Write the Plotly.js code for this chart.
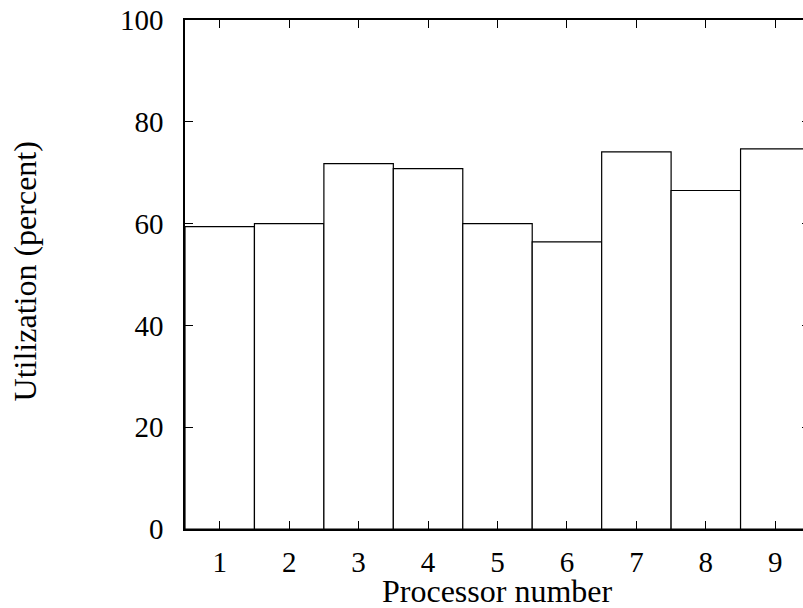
<!DOCTYPE html>
<html>
<head>
<meta charset="utf-8">
<script src="https://cdn.plot.ly/plotly-3.0.1.min.js"></script>
<style>
  html, body { margin: 0; padding: 0; overflow: hidden; background: #fff; }
  #chart { width: 830px; height: 608px; }
</style>
</head>
<body>
<div id="chart"></div>
<script>
// Per-processor utilization
const processors = [1, 2, 3, 4, 5, 6, 7, 8, 9];
const utilization = [59.4, 60.0, 71.8, 70.8, 60.0, 56.4, 74.1, 66.5, 74.7];
const yTicks = [0, 20, 40, 60, 80, 100];
const xTitle = 'Processor number';
const yTitle = 'Utilization (percent)';

const serif = 'Liberation Serif, Times New Roman, serif';

const trace = {
  type: 'bar',
  x: processors,
  y: utilization,
  width: 1,
  marker: { color: '#ffffff', line: { color: '#000000', width: 1.2 } },
  hoverinfo: 'x+y'
};

const layout = {
  width: 830,
  height: 608,
  margin: { l: 185, r: 20, t: 20, b: 79 },
  paper_bgcolor: '#ffffff',
  plot_bgcolor: '#ffffff',
  showlegend: false,
  font: { family: serif, size: 29, color: '#000000' },
  bargap: 0,
  xaxis: {
    range: [0.5, 9.5],
    tickmode: 'array',
    tickvals: processors,
    ticktext: processors.map(String),
    ticks: 'inside',
    ticklen: 8,
    tickwidth: 1,
    tickcolor: '#000',
    mirror: 'ticks',
    showline: true,
    linecolor: '#000',
    linewidth: 1.8,
    showgrid: false,
    zeroline: false,
    ticklabelstandoff: 6
  },
  yaxis: {
    range: [0, 100],
    tickmode: 'array',
    tickvals: yTicks,
    ticktext: yTicks.map(String),
    ticks: 'inside',
    ticklen: 8,
    tickwidth: 1,
    tickcolor: '#000',
    mirror: 'ticks',
    showline: true,
    linecolor: '#000',
    linewidth: 1.8,
    showgrid: false,
    zeroline: false,
    ticklabelstandoff: 14
  },
  // axis titles placed as paper annotations for exact positioning
  annotations: [
    {
      text: xTitle, xref: 'paper', yref: 'paper',
      x: 0.5, y: -0.122, xanchor: 'center', yanchor: 'middle',
      borderpad: 0,
      showarrow: false, font: { family: serif, size: 32, color: '#000' }
    },
    {
      text: yTitle, xref: 'paper', yref: 'paper',
      x: -0.256, y: 0.506, xanchor: 'center', yanchor: 'middle',
      textangle: -90, borderpad: 0,
      showarrow: false, font: { family: serif, size: 32, color: '#000' }
    }
  ]
};

Plotly.newPlot('chart', [trace], layout, { staticPlot: true, displayModeBar: false });
</script>
</body>
</html>
